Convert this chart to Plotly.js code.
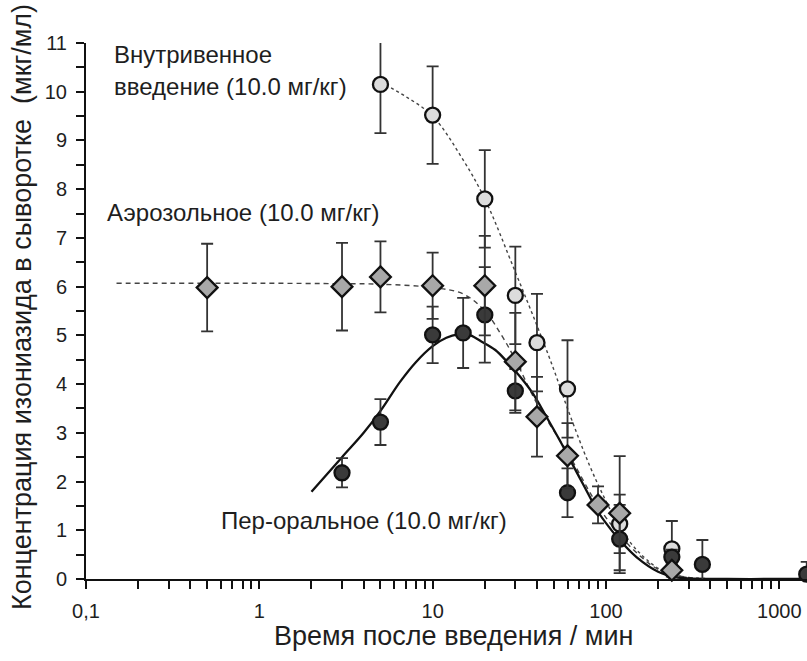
<!DOCTYPE html>
<html>
<head>
<meta charset="utf-8">
<script src="https://cdn.plot.ly/plotly-3.0.1.min.js"></script>
<style>html,body{margin:0;padding:0;background:#fff;}#chart{width:807px;height:661px;}</style>
</head>
<body>
<div id="chart"></div>
<script>
// ---- Data ----
// Intravenous (light circles)
var ivX = [5, 10, 20, 30, 40, 60, 120, 240];
var ivY = [10.15, 9.52, 7.8, 5.82, 4.85, 3.9, 1.13, 0.62];
var ivErr = [1.0, 1.0, 1.0, 1.0, 1.0, 1.0, 0.6, 0.57];
// Aerosol (diamonds)
var aeX = [0.5, 3, 5, 10, 20, 30, 40, 60, 90, 120, 240];
var aeY = [5.98, 6.0, 6.2, 6.02, 6.02, 4.46, 3.33, 2.53, 1.52, 1.35, 0.18];
var aeErr = [0.9, 0.9, 0.73, 0.68, 1.02, 1.0, 0.82, 0.67, 0.38, 1.17, 0.1];
// Per-oral (dark circles)
var orX = [3, 5, 10, 15, 20, 30, 60, 120, 240, 360, 1440];
var orY = [2.18, 3.22, 5.01, 5.05, 5.42, 3.86, 1.77, 0.82, 0.45, 0.3, 0.1];
var orErr = [0.3, 0.47, 0.58, 0.72, 0.98, 0.45, 0.5, 0.7, 0.15, 0.5, 0.25];

// Fitted curves
var ivFitX = [5, 7, 10, 15, 20, 30, 40, 50, 60, 80, 100, 120, 150, 200, 250, 300, 500, 1000, 1500];
var ivFitY = [10.2, 9.9, 9.5, 8.6, 7.8, 6.3, 5.2, 4.3, 3.5, 2.35, 1.6, 1.07, 0.6, 0.22, 0.08, 0.03, 0, 0, 0];
var aeFitX = [0.15, 0.3, 1, 3, 5, 10, 15, 20, 25, 30, 40, 60, 90, 120, 160, 200, 300, 500, 1000, 1500];
var aeFitY = [6.07, 6.07, 6.07, 6.06, 6.05, 5.98, 5.85, 5.5, 5.0, 4.5, 3.6, 2.6, 1.5, 0.9, 0.45, 0.2, 0.03, 0, 0, 0];
var orFitX = [2, 3, 4, 5, 6.5, 8, 10, 12, 14, 16, 19, 23, 27, 32, 38, 45, 55, 62, 75, 90, 105, 120, 150, 200, 250, 300, 500, 1000, 1500];
var orFitY = [1.79, 2.5, 3.0, 3.45, 4.05, 4.45, 4.78, 4.95, 5.02, 5.02, 4.88, 4.7, 4.45, 4.15, 3.8, 3.35, 2.8, 2.45, 1.9, 1.38, 1.05, 0.8, 0.45, 0.15, 0.04, 0.01, 0, 0, 0];

// Tick labels
var xMajor = [0.1, 1, 10, 100, 1000];
var xMajorText = ['0,1', '1', '10', '100', '1000'];
var yMajor = [0, 1, 2, 3, 4, 5, 6, 7, 8, 9, 10, 11];

var labels = {
  iv1: 'Внутривенное',
  iv2: 'введение (10.0 мг/кг)',
  ae: 'Аэрозольное (10.0 мг/кг)',
  or: 'Пер-оральное (10.0 мг/кг)',
  xTitle: 'Время после введения / мин',
  yTitle: 'Концентрация изониазида в сыворотке  (мкг/мл)'
};

var FONT = 'Liberation Sans, Arial, Helvetica, sans-serif';
var TXT = '#1e1e1e';
var XR = [-1, 3.16];
var YR = [0, 11];

// Combined major + minor tick positions (minor ones unlabeled)
var xTickVals = [], xTickText = [];
xMajor.forEach(function (d, i) {
  xTickVals.push(d); xTickText.push(xMajorText[i]);
  for (var k = 2; k <= 9; k++) { if (d * k < 1440) { xTickVals.push(d * k); xTickText.push(''); } }
});
var yTickVals = [], yTickText = [];
yMajor.forEach(function (v) {
  yTickVals.push(v); yTickText.push(String(v));
  if (v < 11) { yTickVals.push(v + 0.5); yTickText.push(''); }
});

var traces = [
  {x: ivFitX, y: ivFitY, mode: 'lines', line: {color: '#444', width: 1.4, dash: 'dot', shape: 'spline'}, hoverinfo: 'skip', showlegend: false},
  {x: aeFitX, y: aeFitY, mode: 'lines', line: {color: '#444', width: 1.4, dash: '5px,4px', shape: 'spline'}, hoverinfo: 'skip', showlegend: false},
  {x: orFitX, y: orFitY, mode: 'lines', line: {color: '#111', width: 2.3, shape: 'spline'}, hoverinfo: 'skip', showlegend: false},
  {x: ivX, y: ivY, mode: 'markers', cliponaxis: false,
   error_y: {type: 'data', array: ivErr, visible: true, color: '#333', thickness: 1.8, width: 6},
   marker: {symbol: 'circle', size: 15, color: '#dcdcdc', line: {color: '#111', width: 2.3}}, showlegend: false},
  {x: orX, y: orY, mode: 'markers', cliponaxis: false,
   error_y: {type: 'data', array: orErr, visible: true, color: '#333', thickness: 1.8, width: 6},
   marker: {symbol: 'circle', size: 15, color: '#3a3a3a', line: {color: '#111', width: 2.3}}, showlegend: false},
  {x: aeX, y: aeY, mode: 'markers', cliponaxis: false,
   error_y: {type: 'data', array: aeErr, visible: true, color: '#333', thickness: 1.8, width: 6},
   marker: {symbol: 'diamond', size: 16, color: '#a8a8a8', line: {color: '#111', width: 2.3}}, showlegend: false}
];

var layout = {
  width: 807, height: 661,
  margin: {l: 86, r: 0, t: 43, b: 82},
  paper_bgcolor: '#fff', plot_bgcolor: '#fff',
  font: {family: FONT, color: TXT, size: 20},
  showlegend: false,
  xaxis: {
    type: 'log', range: XR, showgrid: false, zeroline: false,
    showline: true, linecolor: '#111', linewidth: 2,
    ticks: 'outside', ticklen: 8, tickwidth: 2, tickcolor: '#111',
    tickmode: 'array', tickvals: xTickVals, ticktext: xTickText, tickangle: 0,
    ticklabelstandoff: 5,
    tickfont: {size: 20, family: FONT, color: TXT}
  },
  yaxis: {
    range: YR, showgrid: false, zeroline: false,
    showline: true, linecolor: '#111', linewidth: 2,
    ticks: 'outside', ticklen: 8, tickwidth: 2, tickcolor: '#111',
    tickmode: 'array', tickvals: yTickVals, ticktext: yTickText, ticklabelstandoff: 5,
    tickfont: {size: 20, family: FONT, color: TXT}
  },
  annotations: [
    {xref: 'paper', yref: 'paper', x: 0.036, y: 0.978, xanchor: 'left', yanchor: 'middle', text: labels.iv1, showarrow: false, font: {size: 24, family: FONT, color: TXT}},
    {xref: 'paper', yref: 'paper', x: 0.036, y: 0.918, xanchor: 'left', yanchor: 'middle', text: labels.iv2, showarrow: false, font: {size: 24, family: FONT, color: TXT}},
    {xref: 'paper', yref: 'paper', x: 0.027, y: 0.683, xanchor: 'left', yanchor: 'middle', text: labels.ae, showarrow: false, font: {size: 24, family: FONT, color: TXT}},
    {xref: 'paper', yref: 'paper', x: 0.184, y: 0.110, xanchor: 'left', yanchor: 'middle', text: labels.or, showarrow: false, font: {size: 24, family: FONT, color: TXT}},
    {xref: 'paper', yref: 'paper', x: 0.51, y: -0.106, xanchor: 'center', yanchor: 'middle', text: labels.xTitle, showarrow: false, font: {size: 27, family: FONT, color: TXT}},
    {xref: 'paper', yref: 'paper', x: -0.089, y: 0.507, xanchor: 'center', yanchor: 'middle', textangle: -90, text: labels.yTitle, showarrow: false, font: {size: 27, family: FONT, color: TXT}}
  ]
};

Plotly.newPlot('chart', traces, layout, {displayModeBar: false, staticPlot: true});
</script>
</body>
</html>
